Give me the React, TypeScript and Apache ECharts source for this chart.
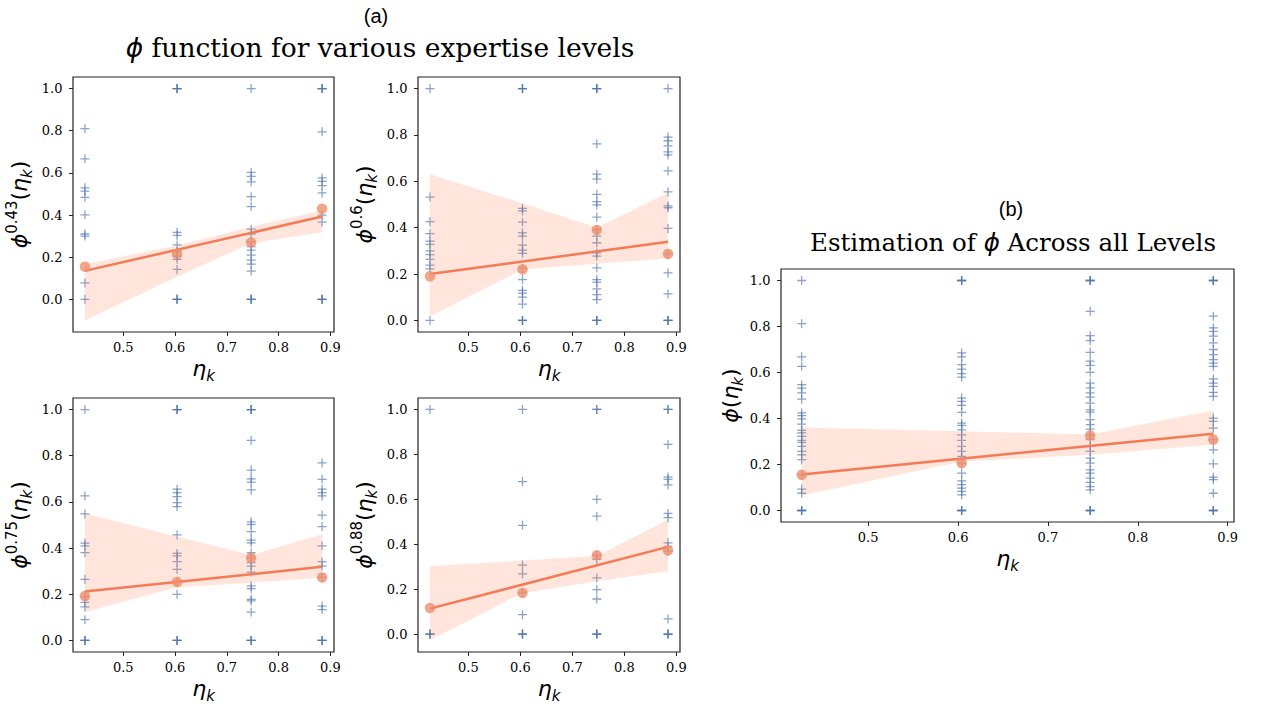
import React, { useEffect, useRef } from "react";
import * as echarts from "echarts";

// expertise levels (x positions of the point columns)
const etaLevels = [0.426, 0.604, 0.747, 0.884];
const xTicks = [0.5, 0.6, 0.7, 0.8, 0.9];
const yTicks = [0, 0.2, 0.4, 0.6, 0.8, 1.0];

// ---- panel phi^0.43 ----
const phi043Points = [
  [0.81, 0.667, 0.529, 0.513, 0.484, 0.401, 0.31, 0.3, 0.078, 0],
  [1, 1, 1, 0.318, 0.303, 0.258, 0.226, 0.205, 0.19, 0.142, 0, 0, 0],
  [1, 0.603, 0.584, 0.557, 0.487, 0.44, 0.333, 0.31, 0.274, 0.25, 0.234, 0.21, 0.186, 0.167, 0.134, 0, 0, 0],
  [1, 1, 1, 0.795, 0.576, 0.56, 0.54, 0.505, 0.4, 0.366, 0, 0, 0],
];
const phi043Means = [0.155, 0.215, 0.27, 0.43];
const phi043Fit = [0.135, 0.393];
const phi043Lower = [-0.1, 0.107, 0.266, 0.318];
const phi043Upper = [0.167, 0.255, 0.345, 0.422];

// ---- panel phi^0.6 ----
const phi06Points = [
  [1, 0.532, 0.426, 0.374, 0.342, 0.328, 0.3, 0.284, 0.263, 0.238, 0.222, 0],
  [1, 1, 1, 0.483, 0.472, 0.424, 0.378, 0.364, 0.325, 0.303, 0.289, 0.224, 0.176, 0.13, 0.118, 0.1, 0.07, 0, 0, 0],
  [1, 1, 1, 0.762, 0.631, 0.609, 0.544, 0.512, 0.498, 0.446, 0.392, 0.364, 0.335, 0.291, 0.277, 0.227, 0.176, 0.165, 0.136, 0.111, 0.09, 0, 0, 0],
  [1, 0.791, 0.775, 0.753, 0.727, 0.714, 0.645, 0.554, 0.494, 0.486, 0.397, 0.287, 0.205, 0.114, 0, 0, 0],
];
const phi06Means = [0.19, 0.22, 0.39, 0.287];
const phi06Fit = [0.2, 0.339];
const phi06Lower = [0.017, 0.22, 0.244, 0.267];
const phi06Upper = [0.63, 0.505, 0.4, 0.551];

// ---- panel phi^0.75 ----
const phi075Points = [
  [1, 0.626, 0.548, 0.422, 0.41, 0.38, 0.265, 0.19, 0.165, 0.145, 0.09, 0, 0, 0],
  [1, 1, 1, 0.655, 0.64, 0.623, 0.597, 0.58, 0.457, 0.377, 0.366, 0.341, 0.308, 0.253, 0.2, 0, 0, 0],
  [1, 1, 1, 0.867, 0.738, 0.7, 0.686, 0.652, 0.514, 0.503, 0.471, 0.435, 0.423, 0.38, 0.358, 0.337, 0.322, 0.296, 0.236, 0.224, 0.178, 0.171, 0.123, 0, 0, 0],
  [0.769, 0.698, 0.655, 0.64, 0.626, 0.543, 0.493, 0.41, 0.341, 0.322, 0.273, 0.149, 0.134, 0, 0, 0],
];
const phi075Means = [0.192, 0.253, 0.358, 0.273];
const phi075Fit = [0.212, 0.319];
const phi075Lower = [0.123, 0.23, 0.25, 0.272];
const phi075Upper = [0.55, 0.45, 0.37, 0.46];

// ---- panel phi^0.88 ----
const phi088Points = [
  [1, 0, 0, 0],
  [1, 0.679, 0.484, 0.307, 0.268, 0.183, 0.086, 0, 0, 0],
  [1, 1, 0.6, 0.525, 0.351, 0.332, 0.25, 0.198, 0.156, 0, 0, 0],
  [1, 1, 0.844, 0.699, 0.689, 0.664, 0.537, 0.518, 0.406, 0.39, 0.369, 0.067, 0, 0, 0],
];
const phi088Means = [0.116, 0.183, 0.351, 0.372];
const phi088Fit = [0.113, 0.388];
const phi088Lower = [-0.028, 0.183, 0.235, 0.28];
const phi088Upper = [0.302, 0.327, 0.347, 0.51];

// ---- panel all levels ----
const phiAllPoints = [
  [1, 0.812, 0.668, 0.627, 0.547, 0.532, 0.511, 0.484, 0.424, 0.412, 0.398, 0.376, 0.348, 0.337, 0.322, 0.305, 0.296, 0.279, 0.257, 0.242, 0.221, 0.155, 0.093, 0.075, 0, 0, 0],
  [1, 1, 1, 0.685, 0.668, 0.634, 0.615, 0.595, 0.58, 0.489, 0.474, 0.457, 0.427, 0.38, 0.37, 0.351, 0.329, 0.305, 0.279, 0.257, 0.235, 0.206, 0.163, 0.129, 0.112, 0.097, 0.083, 0.068, 0, 0, 0],
  [1, 1, 1, 0.866, 0.76, 0.739, 0.688, 0.649, 0.631, 0.601, 0.554, 0.533, 0.511, 0.493, 0.467, 0.438, 0.428, 0.395, 0.373, 0.354, 0.329, 0.308, 0.279, 0.257, 0.228, 0.206, 0.177, 0.163, 0.141, 0.122, 0.104, 0.09, 0, 0, 0],
  [1, 1, 1, 0.845, 0.794, 0.779, 0.758, 0.729, 0.7, 0.678, 0.656, 0.641, 0.627, 0.572, 0.554, 0.54, 0.514, 0.496, 0.402, 0.388, 0.358, 0.308, 0.264, 0.203, 0.145, 0.134, 0.075, 0, 0, 0],
];
const phiAllMeans = [0.155, 0.206, 0.326, 0.308];
const phiAllFit = [0.157, 0.334];
const phiAllLower = [0.065, 0.213, 0.242, 0.286];
const phiAllUpper = [0.361, 0.345, 0.33, 0.435];

const BLUE = "#4c72b0";
const LINE = "#f37b55";
const MEAN = "#ef8e6c";
const BAND = "rgba(255,127,80,0.2)";
const AXIS = "#222";
const PLUS = "path://M4.3,0H5.7V4.3H10V5.7H5.7V10H4.3V5.7H0V4.3H4.3Z";
const SERIF = "DejaVu Serif";
const MATH = "DejaVu Sans";

const mathRich = {
  m: { fontFamily: MATH, fontStyle: "italic", fontSize: 22, lineHeight: 30, color: "#000" },
  r: { fontFamily: MATH, fontSize: 22, lineHeight: 30, color: "#000" },
  sup: { fontFamily: MATH, fontSize: 15, lineHeight: 18, verticalAlign: "top", color: "#000" },
  sub: { fontFamily: MATH, fontStyle: "italic", fontSize: 15, lineHeight: 16, verticalAlign: "bottom", color: "#000" },
};

const tickRich = {
  t: { fontFamily: SERIF, fontSize: 13, color: "#000" },
};

type Panel = {
  grid: { left: number; top: number; width: number; height: number };
  yMin: number;
  yMax: number;
  yName: string;
  yGap: number;
  points: number[][];
  means: number[];
  fit: number[];
  lower: number[];
  upper: number[];
};

const panels: Panel[] = [
  { grid: { left: 73, top: 77, width: 261, height: 255 }, yMin: -0.155, yMax: 1.055, yGap: 39, yName: "{m|ϕ}{sup|0.43}{r|(}{m|η}{sub|k}{r|)}", points: phi043Points, means: phi043Means, fit: phi043Fit, lower: phi043Lower, upper: phi043Upper },
  { grid: { left: 418, top: 77, width: 262, height: 255 }, yMin: -0.05, yMax: 1.05, yGap: 39, yName: "{m|ϕ}{sup|0.6}{r|(}{m|η}{sub|k}{r|)}", points: phi06Points, means: phi06Means, fit: phi06Fit, lower: phi06Lower, upper: phi06Upper },
  { grid: { left: 73, top: 398, width: 261, height: 254 }, yMin: -0.05, yMax: 1.05, yGap: 39, yName: "{m|ϕ}{sup|0.75}{r|(}{m|η}{sub|k}{r|)}", points: phi075Points, means: phi075Means, fit: phi075Fit, lower: phi075Lower, upper: phi075Upper },
  { grid: { left: 418, top: 398, width: 262, height: 254 }, yMin: -0.08, yMax: 1.051, yGap: 39, yName: "{m|ϕ}{sup|0.88}{r|(}{m|η}{sub|k}{r|)}", points: phi088Points, means: phi088Means, fit: phi088Fit, lower: phi088Lower, upper: phi088Upper },
  { grid: { left: 781, top: 269, width: 453, height: 253 }, yMin: -0.05, yMax: 1.05, yGap: 34, yName: "{m|ϕ}{r|(}{m|η}{sub|k}{r|)}", points: phiAllPoints, means: phiAllMeans, fit: phiAllFit, lower: phiAllLower, upper: phiAllUpper },
];

function buildOption() {
  const grids: any[] = [];
  const xAxes: any[] = [];
  const yAxes: any[] = [];
  const series: any[] = [];
  const fmt = (v: number) => `{t|${v.toFixed(1)}}`;

  panels.forEach((p, i) => {
    grids.push({ ...p.grid, show: true, borderColor: AXIS, borderWidth: 1.2, backgroundColor: "transparent", containLabel: false });
    xAxes.push({
      type: "value", gridIndex: i, min: 0.403, max: 0.907,
      axisLine: { show: false, onZero: false },
      axisTick: { show: true, customValues: xTicks, length: 4, lineStyle: { color: AXIS, width: 1 } },
      axisLabel: { customValues: xTicks, margin: 9, formatter: fmt, rich: tickRich, fontFamily: SERIF, fontSize: 13, color: "#000" },
      splitLine: { show: false },
      name: "{m|η}{sub|k}", nameLocation: "middle", nameGap: 21,
      nameTextStyle: { rich: mathRich },
    });
    yAxes.push({
      type: "value", gridIndex: i, min: p.yMin, max: p.yMax,
      axisLine: { show: false, onZero: false },
      axisTick: { show: true, customValues: yTicks, length: 4, lineStyle: { color: AXIS, width: 1 } },
      axisLabel: { customValues: yTicks, margin: 10.5, formatter: fmt, rich: tickRich, fontFamily: SERIF, fontSize: 13, color: "#000" },
      splitLine: { show: false },
      name: p.yName, nameLocation: "middle", nameGap: p.yGap, nameRotate: 90,
      nameTextStyle: { rich: mathRich },
    });

    const pts: number[][] = [];
    p.points.forEach((col, c) => col.forEach((v) => pts.push([etaLevels[c], v])));
    series.push({
      type: "scatter", xAxisIndex: i, yAxisIndex: i, z: 1, silent: true,
      symbol: PLUS, symbolSize: 9,
      itemStyle: { color: BLUE, opacity: 0.65 },
      data: pts,
    });

    const bandRows = etaLevels.map((x, k) => [x, p.lower[k], p.upper[k]]);
    series.push({
      type: "custom", xAxisIndex: i, yAxisIndex: i, z: 2, silent: true,
      data: bandRows,
      encode: { x: 0, y: [1, 2] },
      renderItem: (params: any, api: any) => {
        if (params.dataIndex !== 0) return null;
        const top = bandRows.map((r) => api.coord([r[0], r[2]]));
        const bot = bandRows.map((r) => api.coord([r[0], r[1]])).reverse();
        return { type: "polygon", shape: { points: top.concat(bot) }, style: { fill: BAND } };
      },
    });

    series.push({
      type: "line", xAxisIndex: i, yAxisIndex: i, z: 3, silent: true,
      showSymbol: false, symbol: "none",
      lineStyle: { color: LINE, width: 2.5 },
      data: [[etaLevels[0], p.fit[0]], [etaLevels[3], p.fit[1]]],
    });

    series.push({
      type: "scatter", xAxisIndex: i, yAxisIndex: i, z: 4, silent: true,
      symbol: "circle", symbolSize: 10.5,
      itemStyle: { color: MEAN, opacity: 0.8 },
      data: p.means.map((m, k) => [etaLevels[k], m]),
    });
  });

  const titleRichA = {
    m: { font: "italic 26.5px 'DejaVu Sans'", fill: "#000" },
    r: { font: "26.5px 'DejaVu Serif'", fill: "#000" },
  };
  const titleRichB = {
    m: { font: "italic 24.5px 'DejaVu Sans'", fill: "#000" },
    r: { font: "24.5px 'DejaVu Serif'", fill: "#000" },
  };

  const graphic = [
    { type: "text", x: 376, y: 16, style: { text: "(a)", font: "20px 'Liberation Sans'", fill: "#000", align: "center", verticalAlign: "middle" } },
    { type: "text", x: 380, y: 47, style: { text: "{m|ϕ}{r| function for various expertise levels}", rich: titleRichA, align: "center", verticalAlign: "middle" } },
    { type: "text", x: 1011, y: 209, style: { text: "(b)", font: "20px 'Liberation Sans'", fill: "#000", align: "center", verticalAlign: "middle" } },
    { type: "text", x: 1013, y: 242, style: { text: "{r|Estimation of }{m|ϕ}{r| Across all Levels}", rich: titleRichB, align: "center", verticalAlign: "middle" } },
  ];

  return {
    animation: false,
    backgroundColor: "#fff",
    grid: grids,
    xAxis: xAxes,
    yAxis: yAxes,
    series,
    graphic,
  };
}

export default function App() {
  const ref = useRef<HTMLDivElement>(null);
  useEffect(() => {
    if (!ref.current) return;
    const chart = echarts.init(ref.current, null, { renderer: "svg" });
    chart.setOption(buildOption() as any);
    return () => chart.dispose();
  }, []);
  return <div ref={ref} style={{ position: "absolute", left: 0, top: 0, width: 1264, height: 706 }} />;
}
